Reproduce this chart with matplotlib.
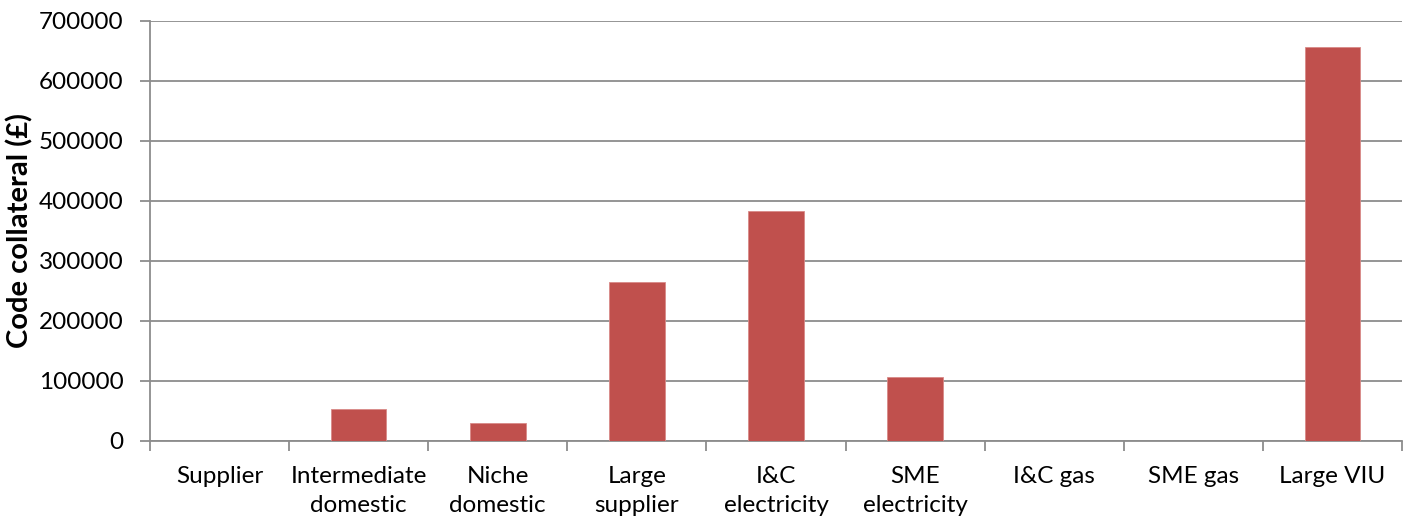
import matplotlib
matplotlib.use("Agg")
import matplotlib.pyplot as plt
import numpy as np

categories = ["Supplier", "Intermediate\ndomestic", "Niche\ndomestic", "Large\nsupplier",
              "I&C\nelectricity", "SME\nelectricity", "I&C gas", "SME gas", "Large VIU"]
collateral = [0, 53300, 29000, 264000, 382300, 106700, 0, 0, 656700]
y_ticks = [0, 100000, 200000, 300000, 400000, 500000, 600000, 700000]

plt.rcParams["font.family"] = ["Lato", "DejaVu Sans"]

W, H = 1405, 520
fig = plt.figure(figsize=(W / 100, H / 100), dpi=100)
ax = fig.add_axes([150 / W, (H - 440.7) / H, (1402 - 150) / W, 420 / H])

grid_col = "#8c8c8c"
x = np.arange(len(categories))
ax.bar(x, collateral, width=0.4, color="#C0504D", edgecolor="#d98a88", linewidth=0.6, zorder=3)

ax.set_xlim(-0.5, len(categories) - 0.5)
ax.set_ylim(0, 700000)
ax.set_yticks(y_ticks)
ax.set_yticklabels([str(v) for v in y_ticks], fontsize=17.5)
ax.yaxis.grid(True, color=grid_col, linewidth=1.3, zorder=0)

ax.set_xticks(x)
ax.set_xticklabels(categories, fontsize=17.5, linespacing=1.5)
ax.set_xticks(np.arange(-0.5, len(categories)), minor=True)
ax.tick_params(axis="x", which="major", length=0, pad=18)
ax.tick_params(axis="x", which="minor", length=7, color=grid_col, width=1.3)
ax.tick_params(axis="y", length=7, color=grid_col, width=1.3, pad=12)

for side in ("top", "right"):
    ax.spines[side].set_visible(False)
for side in ("left", "bottom"):
    ax.spines[side].set_color(grid_col)
    ax.spines[side].set_linewidth(1.3)

ax.set_ylabel("Code collateral (£)", fontsize=21, fontweight="bold", labelpad=4)

fig.savefig("out.png", dpi=100)
